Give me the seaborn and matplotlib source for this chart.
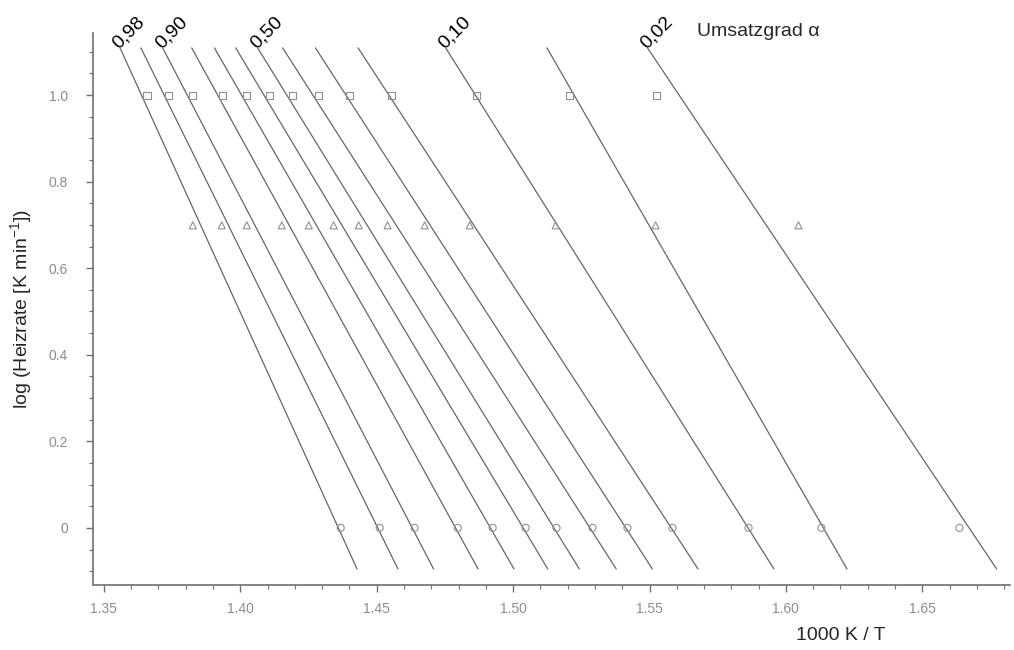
import numpy as np
import pandas as pd
import matplotlib
matplotlib.use("Agg")
import matplotlib.pyplot as plt
from matplotlib.ticker import MultipleLocator, FuncFormatter
import seaborn as sns

# conversion degrees (Umsatzgrad alpha), left to right
alphas = ['0,98', '0,95', '0,90', '0,80', '0,70', '0,60', '0,50',
          '0,40', '0,30', '0,20', '0,10', '0,05', '0,02']
labelled = ['0,98', '0,90', '0,50', '0,10', '0,02']

# log of heating rate for the three measurements (10, 5, 1 K/min)
log_rates = [1.0, 0.699, 0.0]
rate_names = ['10', '5', '1']

x_rate10 = [1.3658, 1.3738, 1.3826, 1.3936, 1.4024, 1.4108, 1.4192,
            1.4288, 1.4401, 1.4555, 1.4866, 1.5207, 1.5526]
x_rate5 = [1.3826, 1.3932, 1.4024, 1.4152, 1.4251, 1.4342, 1.4434,
           1.4540, 1.4676, 1.4841, 1.5156, 1.5522, 1.6046]
x_rate1 = [1.4368, 1.4511, 1.4639, 1.4797, 1.4925, 1.5046, 1.5159,
           1.5291, 1.5419, 1.5584, 1.5863, 1.6130, 1.6636]

# vertical extent of the fitted lines
y_line_top = 1.109
y_line_bottom = -0.095

rows = []
for xs, ly, rn in zip([x_rate10, x_rate5, x_rate1], log_rates, rate_names):
    for a, x in zip(alphas, xs):
        rows.append({'alpha': a, 'x': x, 'y': ly, 'rate': rn})
points = pd.DataFrame(rows)

# linear fit per alpha (x as function of log rate)
line_rows = []
tops = {}
for a, grp in points.groupby('alpha', sort=False):
    c, d = np.polyfit(grp['y'], grp['x'], 1)
    for yy in (y_line_bottom, y_line_top):
        line_rows.append({'alpha': a, 'x': c * yy + d, 'y': yy})
    tops[a] = c * y_line_top + d
lines = pd.DataFrame(line_rows)

sns.set_style('white')
plt.rcParams['font.family'] = ['Liberation Sans', 'DejaVu Sans']
plt.rcParams['mathtext.fontset'] = 'custom'
plt.rcParams['mathtext.rm'] = 'Liberation Sans'

fig = plt.figure(figsize=(10.14, 6.5), dpi=100)
ax = fig.add_axes([0.0917, 0.1, 0.904, 0.849])

sns.lineplot(data=lines, x='x', y='y', units='alpha', estimator=None,
             color='#666666', lw=0.9, sort=False, ax=ax, legend=False)
sns.scatterplot(data=points, x='x', y='y', style='rate',
                markers={'10': 's', '5': '^', '1': 'o'}, s=26,
                color='#888888', ax=ax, legend=False, zorder=3)
for coll in ax.collections:
    coll.set_facecolor('none')
    coll.set_edgecolor('#909090')
    coll.set_linewidth(0.8)

for a in labelled:
    ax.annotate(a, xy=(tops[a], y_line_top), xytext=(1, -3),
                textcoords='offset points', rotation=45,
                rotation_mode='anchor', ha='left', va='bottom',
                fontsize=14, color='black')

ax.set_xlim(1.346, 1.682)
ax.set_ylim(-0.132, 1.143)
ax.xaxis.set_major_locator(MultipleLocator(0.05))
ax.xaxis.set_minor_locator(MultipleLocator(0.01))
ax.yaxis.set_major_locator(MultipleLocator(0.2))
ax.yaxis.set_minor_locator(MultipleLocator(0.05))
ax.xaxis.set_major_formatter(FuncFormatter(lambda v, p: f'{v:.2f}'))
ax.yaxis.set_major_formatter(FuncFormatter(
    lambda v, p: '0' if abs(v) < 1e-9 else f'{v:.1f}'))

for side in ('top', 'right'):
    ax.spines[side].set_visible(False)
for side in ('left', 'bottom'):
    ax.spines[side].set_color('#707070')
    ax.spines[side].set_linewidth(1.2)
ax.tick_params(which='major', direction='out', length=5, width=1,
               color='#707070', labelcolor='#8c8c8c', labelsize=10,
               bottom=True, left=True)
ax.tick_params(axis='x', which='major', pad=7)
ax.tick_params(axis='y', which='major', pad=13)
ax.tick_params(which='minor', direction='out', length=3, width=0.8,
               color='#707070', bottom=True, left=True)

ax.set_xlabel('')
ax.set_ylabel('log (Heizrate [K min$^{\\mathregular{-1}}$])', fontsize=14,
              labelpad=10)
fig.text(0.785, 0.023, '1000 K / T', fontsize=14, ha='left', va='center')
fig.text(0.687, 0.951, 'Umsatzgrad α', fontsize=14, ha='left',
         va='center')

fig.savefig('out.png', dpi=100)
